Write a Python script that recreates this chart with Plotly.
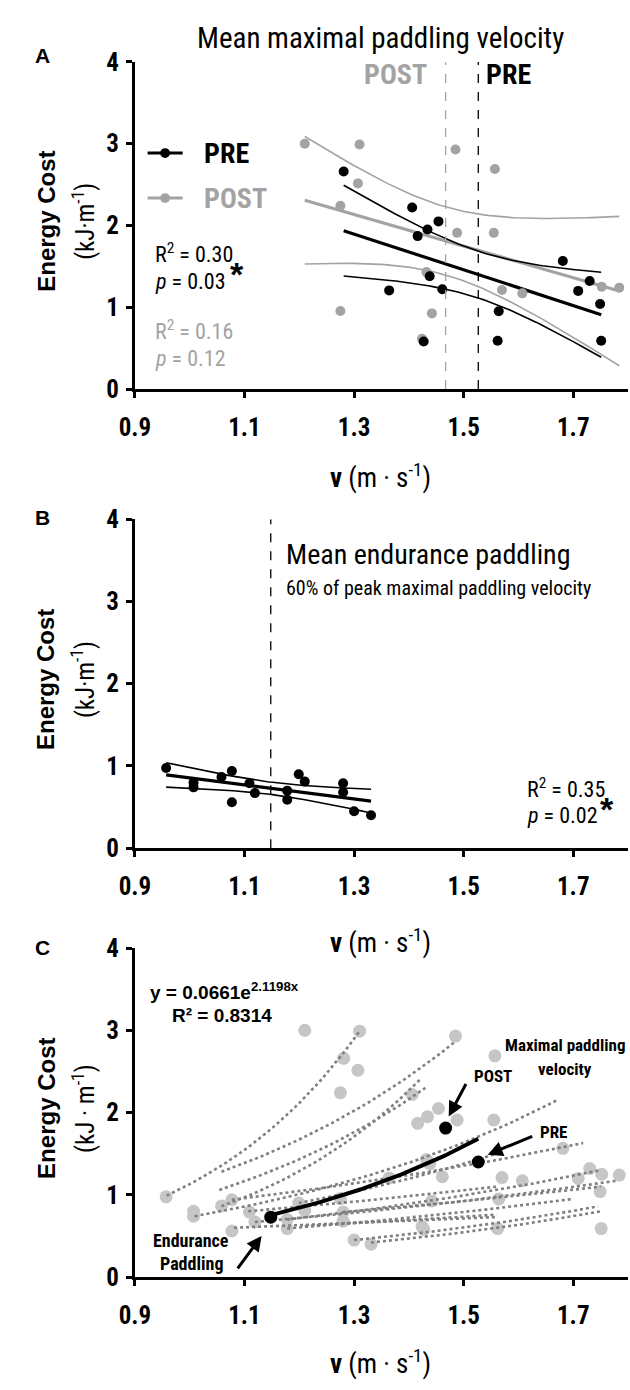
import numpy as np
import plotly.graph_objects as go

W, H = 630, 1390

# ---------------- data ----------------
# Panel A: maximal paddling, PRE (black) and POST (grey)
pre_v = [1.281, 1.406, 1.454, 1.434, 1.416, 1.681, 1.730, 1.364, 1.461, 1.438, 1.709, 1.749, 1.564, 1.427, 1.562, 1.751]
pre_ec = [2.66, 2.22, 2.05, 1.95, 1.87, 1.565, 1.32, 1.206, 1.22, 1.38, 1.20, 1.04, 0.95, 0.58, 0.59, 0.59]
post_v = [1.210, 1.310, 1.485, 1.557, 1.307, 1.275, 1.488, 1.555, 1.432, 1.752, 1.784, 1.570, 1.607, 1.275, 1.442, 1.424]
post_ec = [3.00, 2.99, 2.93, 2.69, 2.515, 2.24, 1.91, 1.91, 1.43, 1.25, 1.24, 1.21, 1.17, 0.955, 0.925, 0.615]
# Panel B: endurance paddling
end_v = [0.957, 1.007, 1.007, 1.058, 1.077, 1.077, 1.109, 1.119, 1.178, 1.178, 1.199, 1.210, 1.280, 1.280, 1.300, 1.331]
end_ec = [0.976, 0.80, 0.74, 0.865, 0.94, 0.56, 0.79, 0.67, 0.70, 0.59, 0.90, 0.81, 0.79, 0.68, 0.45, 0.40]
# Panel C: individual exponential trend lines (start v, start EC, end v, end EC)
trend_v0 = [0.958, 1.058, 1.054, 1.009, 1.077, 1.081, 1.300, 1.119, 1.058, 1.178, 1.199, 1.210, 1.280, 1.178, 1.331, 1.107]
trend_e0 = [0.99, 1.28, 1.06, 0.74, 0.94, 0.60, 0.45, 0.67, 0.86, 0.70, 0.90, 0.62, 0.79, 0.59, 0.42, 0.80]
trend_v1 = [1.309, 1.484, 1.430, 1.673, 1.718, 1.559, 1.745, 1.777, 1.420, 1.750, 1.560, 1.560, 1.750, 1.700, 1.750, 1.560]
trend_e1 = [2.98, 2.86, 2.30, 2.16, 1.63, 0.73, 0.86, 1.17, 2.40, 1.30, 1.50, 0.76, 1.10, 0.95, 0.80, 1.10]
# Group fit in panel C: EC = a * exp(b * v)
grp_a, grp_b = 0.0661, 2.1198

x_ticks = [0.9, 1.1, 1.3, 1.5, 1.7]
y_ticks = [0, 1, 2, 3, 4]

# ---------------- styling helpers ----------------
NARROW = "Roboto Condensed, Liberation Sans Narrow, Arial Narrow, Roboto, sans-serif"
ARIAL = "Liberation Sans, Arial, sans-serif"
GREY = "#a3a3a3"
LGREY = "#c6c6c6"
DGREY = "#7f7f7f"


def px(x):
    return x / W


def py(y):
    return 1 - y / H


def fit_band(x, y, n=80, t=2.145):
    x = np.asarray(x, float)
    y = np.asarray(y, float)
    b, a = np.polyfit(x, y, 1)
    xs = np.linspace(x.min(), x.max(), n)
    yh = a + b * xs
    res = y - (a + b * x)
    s = np.sqrt(np.sum(res ** 2) / (len(x) - 2))
    se = s * np.sqrt(1 / len(x) + (xs - x.mean()) ** 2 / np.sum((x - x.mean()) ** 2))
    return xs, yh, yh - t * se, yh + t * se


fig = go.Figure()

# domains (pixels -> paper)
xdom = [122 / W, 628 / W]
panels = {"A": (49, 383), "B": (516, 852), "C": (954, 1290)}
axis_ids = {"A": ("x", "y"), "B": ("x2", "y2"), "C": ("x3", "y3")}

for i, (key, (top, bot)) in enumerate(panels.items()):
    sfx = "" if i == 0 else str(i + 1)
    ax_common = dict(showline=True, linewidth=3, linecolor="black", ticks="outside",
                     ticklen=6, tickwidth=3, tickcolor="black", showgrid=False, zeroline=False)
    tf = dict(family=NARROW, size=25, color="black", weight="bold")
    fig.layout["xaxis" + sfx] = dict(domain=xdom, range=[0.9, 1.8], anchor="y" + sfx,
                                     tickvals=x_ticks, ticktext=[f"{v:.1f}" for v in x_ticks],
                                     tickfont=tf, ticklabelstandoff=8, **ax_common)
    fig.layout["yaxis" + sfx] = dict(domain=[py(bot), py(top)], range=[0, 4], anchor="x" + sfx,
                                     tickvals=y_ticks, tickfont=tf, ticklabelstandoff=2, **ax_common)

# ---------------- Panel A ----------------
xa, ya = axis_ids["A"]
mean_pre_v = float(np.mean(pre_v))
mean_post_v = float(np.mean(post_v))
for xv, col in [(mean_post_v, GREY), (mean_pre_v, "black")]:
    fig.add_shape(type="line", xref=xa, yref=ya, x0=xv, x1=xv, y0=0, y1=4,
                  line=dict(color=col, width=1.3, dash="dash"))

xs, yh, lo, hi = fit_band(post_v, post_ec)
for arr in (lo, hi):
    fig.add_trace(go.Scatter(x=xs, y=arr, mode="lines", line=dict(color=GREY, width=1.6),
                             xaxis=xa, yaxis=ya, hoverinfo="skip"))
fig.add_trace(go.Scatter(x=xs, y=yh, mode="lines", line=dict(color=GREY, width=3.2),
                         xaxis=xa, yaxis=ya))
xs, yh, lo, hi = fit_band(pre_v, pre_ec)
for arr in (lo, hi):
    fig.add_trace(go.Scatter(x=xs, y=arr, mode="lines", line=dict(color="black", width=1.6),
                             xaxis=xa, yaxis=ya, hoverinfo="skip"))
fig.add_trace(go.Scatter(x=xs, y=yh, mode="lines", line=dict(color="black", width=3.2),
                         xaxis=xa, yaxis=ya))
fig.add_trace(go.Scatter(x=post_v, y=post_ec, mode="markers", name="POST",
                         marker=dict(color=GREY, size=10), xaxis=xa, yaxis=ya, cliponaxis=False))
fig.add_trace(go.Scatter(x=pre_v, y=pre_ec, mode="markers", name="PRE",
                         marker=dict(color="black", size=10), xaxis=xa, yaxis=ya, cliponaxis=False))

# ---------------- Panel B ----------------
xb, yb = axis_ids["B"]
mean_end_v = float(np.mean(end_v))
fig.add_shape(type="line", xref=xb, yref=yb, x0=mean_end_v, x1=mean_end_v, y0=0, y1=4,
              line=dict(color="black", width=1.3, dash="dash"))
xs, yh, lo, hi = fit_band(end_v, end_ec)
for arr in (lo, hi):
    fig.add_trace(go.Scatter(x=xs, y=arr, mode="lines", line=dict(color="black", width=1.6),
                             xaxis=xb, yaxis=yb))
fig.add_trace(go.Scatter(x=xs, y=yh, mode="lines", line=dict(color="black", width=3.2),
                         xaxis=xb, yaxis=yb))
fig.add_trace(go.Scatter(x=end_v, y=end_ec, mode="markers",
                         marker=dict(color="black", size=10), xaxis=xb, yaxis=yb, cliponaxis=False))

# ---------------- Panel C ----------------
xc, yc = axis_ids["C"]
all_v = pre_v + post_v + end_v
all_ec = pre_ec + post_ec + end_ec
fig.add_trace(go.Scatter(x=all_v, y=all_ec, mode="markers",
                         marker=dict(color=LGREY, size=13), xaxis=xc, yaxis=yc, cliponaxis=False))
for v0, e0, v1, e1 in zip(trend_v0, trend_e0, trend_v1, trend_e1):
    k = np.log(e1 / e0) / (v1 - v0)
    vv = np.linspace(v0, v1, 40)
    fig.add_trace(go.Scatter(x=vv, y=e0 * np.exp(k * (vv - v0)), mode="lines",
                             line=dict(color=DGREY, width=2.6, dash="dot"),
                             xaxis=xc, yaxis=yc))
vv = np.linspace(mean_end_v, mean_pre_v, 60)
fig.add_trace(go.Scatter(x=vv, y=grp_a * np.exp(grp_b * vv), mode="lines",
                         line=dict(color="black", width=4), xaxis=xc, yaxis=yc))
fig.add_trace(go.Scatter(x=[mean_end_v, mean_post_v, mean_pre_v],
                         y=[float(np.mean(end_ec)), float(np.mean(post_ec)), float(np.mean(pre_ec))],
                         mode="markers", marker=dict(color="black", size=13),
                         xaxis=xc, yaxis=yc, cliponaxis=False))

# ---------------- annotations ----------------
ann = []


def text(x, y, s, size=20, family=NARROW, color="black", bold=False, xanchor="left",
         angle=0, yanchor="middle"):
    ann.append(dict(x=px(x), y=py(y), xref="paper", yref="paper", text=s, showarrow=False,
                    xanchor=xanchor, yanchor=yanchor, textangle=angle,
                    font=dict(family=family, size=size, color=color,
                              weight="bold" if bold else "normal")))


def arrow(xh, yh, xt, yt):
    ann.append(dict(x=px(xh), y=py(yh), xref="paper", yref="paper", text="",
                    showarrow=True, ax=xt - xh, ay=yt - yh, axref="pixel", ayref="pixel",
                    arrowhead=2, arrowsize=1.0, arrowwidth=3, arrowcolor="black"))


# panel letters
for lbl, y in [("A", 42), ("B", 514), ("C", 953)]:
    text(27, y, lbl, size=21, family=ARIAL, bold=True, xanchor="center")

# y-axis titles
for key, (top, bot) in panels.items():
    yc_ = (top + bot) / 2 - 4
    text(31, yc_, "Energy Cost", size=24, family=ARIAL, bold=True, xanchor="center", angle=-90)
    unit = "(kJ · m<sup>-1</sup>)" if key == "C" else "(kJ·m<sup>-1</sup>)"
    text(70, yc_, unit, size=25, family=NARROW, xanchor="center", angle=-90)

# x-axis titles
for y in [472, 947, 1377]:
    text(374, y, "<b>v</b> (m · s<sup>-1</sup>)", size=27, family=NARROW, xanchor="center")

# Panel A texts
text(374, 25, "Mean maximal paddling velocity", size=29, xanchor="center")
text(424, 62, "POST", size=28, bold=True, color=GREY, xanchor="right")
text(480, 62, "PRE", size=28, bold=True, xanchor="left")
text(191, 142, "PRE", size=28, bold=True)
text(191, 188, "POST", size=28, bold=True, color=GREY)
text(141, 244, "R<sup>2</sup> = 0.30", size=22)
text(141, 273, "<i>p</i> = 0.03", size=22)
text(218, 266, "*", size=34, family=ARIAL, bold=True)
text(141, 323, "R<sup>2</sup> = 0.16", size=22, color=GREY)
text(141, 352, "<i>p</i> = 0.12", size=22, color=GREY)

# legend samples for panel A
shapes = []
for yy, col in [(142, "black"), (188, GREY)]:
    shapes.append(dict(type="line", xref="paper", yref="paper", x0=px(135), x1=px(171),
                       y0=py(yy), y1=py(yy), line=dict(color=col, width=3)))
    shapes.append(dict(type="circle", xref="paper", yref="paper", x0=px(148), x1=px(158),
                       y0=py(yy + 5), y1=py(yy - 5), fillcolor=col, line=dict(color=col, width=0)))

# Panel B texts
text(275, 552, "Mean endurance paddling", size=28)
text(275, 586, "60% of peak maximal paddling velocity", size=20)
text(522, 790, "R<sup>2</sup> = 0.35", size=22)
text(522, 819, "<i>p</i> = 0.02", size=22)
text(597, 812, "*", size=34, family=ARIAL, bold=True)

# Panel C texts
text(135, 998, "y = 0.0661e<sup>2.1198x</sup>", size=19, family=ARIAL, bold=True)
text(158, 1023, "R² = 0.8314", size=19, family=ARIAL, bold=True)
text(563, 1053, "Maximal paddling", size=17, family=NARROW, bold=True, xanchor="center")
text(563, 1077, "velocity", size=17, family=NARROW, bold=True, xanchor="center")
text(489, 1085, "POST", size=17, family=NARROW, bold=True, xanchor="center")
text(552, 1142, "PRE", size=17, family=NARROW, bold=True, xanchor="center")
text(180, 1253, "Endurance", size=18, family=NARROW, bold=True, xanchor="center")
text(180, 1276, "Paddling", size=18, family=NARROW, bold=True, xanchor="center")
arrow(444, 1126, 462, 1092)
arrow(484, 1165, 530, 1146)
arrow(252, 1248, 227, 1282)

for s in shapes:
    fig.add_shape(**s)

fig.update_layout(width=W, height=H, autosize=False, margin=dict(l=0, r=0, t=0, b=0),
                  plot_bgcolor="white", paper_bgcolor="white", showlegend=False,
                  annotations=ann)

fig.write_html("out.html", config={"displayModeBar": False},
               post_script="document.body.style.margin='0';document.body.style.overflow='hidden';")
